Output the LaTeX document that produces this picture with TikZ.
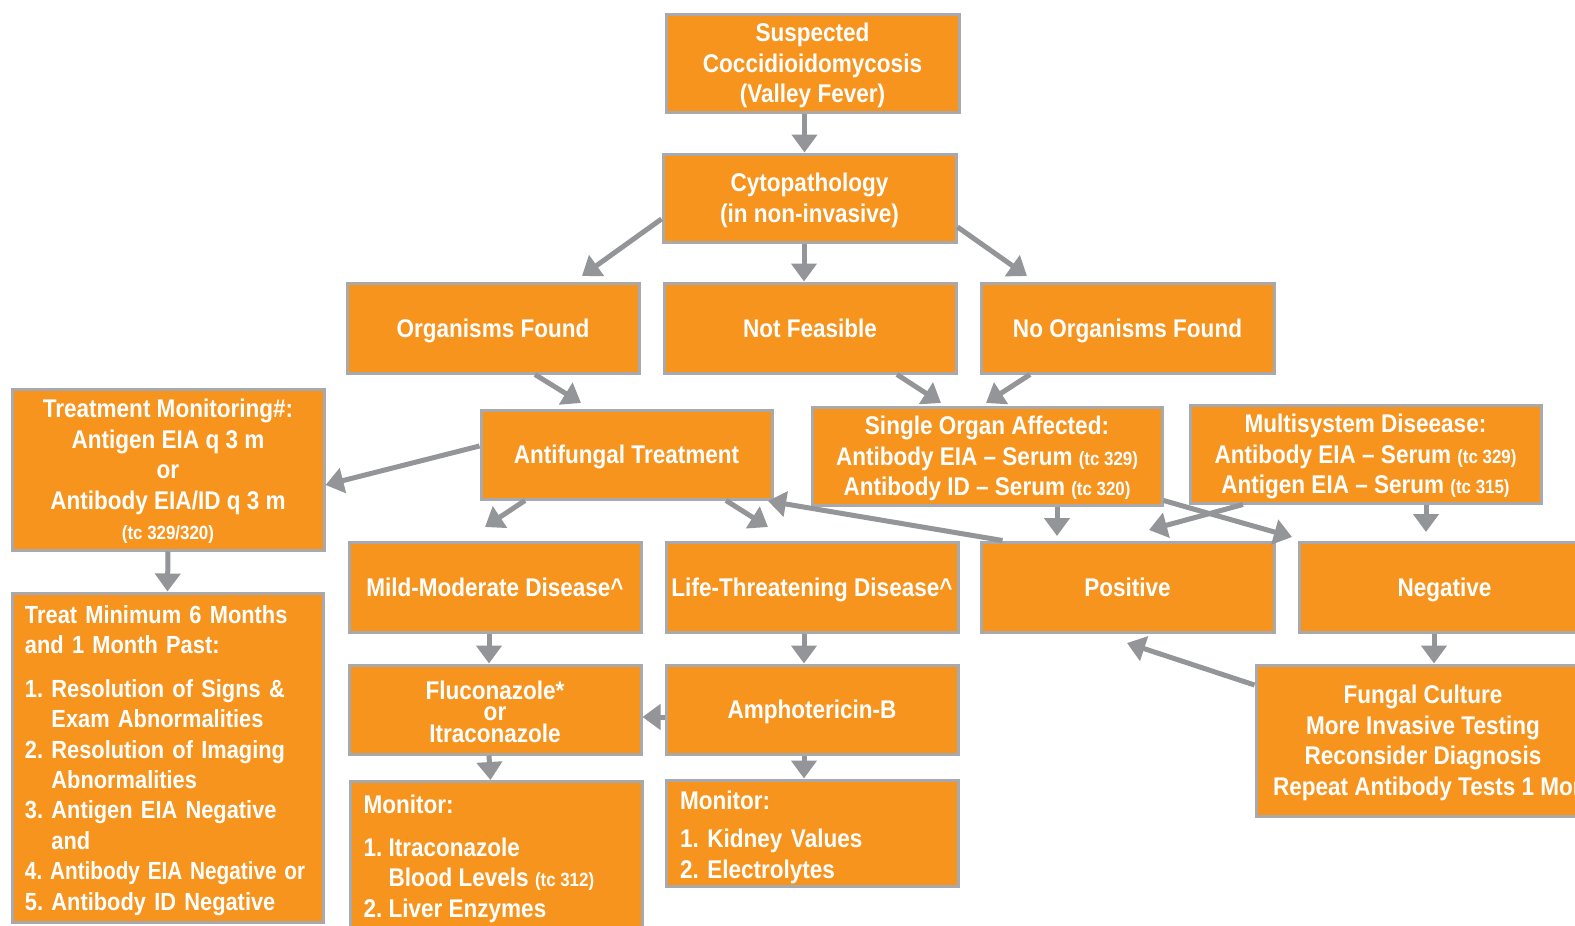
\documentclass[tikz,border=0pt]{standalone}
\usepackage{fontspec}
\usepackage{graphicx}
\setmainfont{Liberation Sans}[FakeStretch=0.88]
\usetikzlibrary{arrows.meta}
\frenchspacing
\definecolor{vforange}{RGB}{247,148,30}
\definecolor{bordergray}{RGB}{167,169,172}
\definecolor{arrowgray}{RGB}{147,149,152}
\newcommand\mainfs{\fontsize{12.8pt}{15.25pt}\selectfont\bfseries}
\newcommand\tcfs{\fontsize{9.6pt}{11pt}\selectfont}
\newcommand\topstrut{\rule{0pt}{12.4pt}}
\newcommand\botstrut{\rule[-3.2pt]{0pt}{3.2pt}}
\newcommand\bx[7][]{\node[box,#1, minimum width={(#5-#3)*0.5pt}, minimum height={(#6-#4)*0.5pt}] (#2) at ({(#3+#5)/2},{(#4+#6)/2}) {\topstrut#7\botstrut};}
\begin{document}
\begin{tikzpicture}[x=0.5pt,y=-0.5pt,
  box/.style={draw=bordergray, line width=1.5pt, fill=vforange, text=white, font=\mainfs, align=center, inner sep=0pt},
  arr/.style={draw=arrowgray, line width=2.5pt, -{Triangle[width=12.5pt,length=9pt]}}]
\useasboundingbox (0,0) rectangle (1575,926);
\fill[white] (0,0) rectangle (1575,926);
\clip (0,0) rectangle (1575,926);

% boxes
\bx{sus}{666}{14}{959}{112}{Suspected\\Coccidioidomycosis\\(Valley Fever)}
\bx{cyto}{663}{154}{956}{242}{Cytopathology\\(in non-invasive)}
\bx{org}{347}{283}{639}{373}{Organisms Found}
\bx{notf}{664}{283}{956}{373}{Not Feasible}
\bx{noorg}{981}{283}{1274}{373}{No Organisms Found}
\bx{tm}{12}{389}{324}{550}{Treatment Monitoring\#:\\Antigen EIA q 3 m\\or\\Antibody EIA/ID q 3 m\\{\tcfs (tc 329/320)}}
\bx{anti}{481}{410}{772}{499}{Antifungal Treatment}
\bx{single}{812}{407}{1162}{505}{Single Organ Affected:\\Antibody EIA -- Serum {\tcfs (tc 329)}\\Antibody ID -- Serum {\tcfs (tc 320)}}
\bx{multi}{1190}{405}{1541}{503}{Multisystem Diseease:\\Antibody EIA -- Serum {\tcfs (tc 329)}\\Antigen EIA -- Serum {\tcfs (tc 315)}}
\bx[align=left, text width={285*0.5pt}, font={\mainfs\fontsize{12.4pt}{15.2pt}\selectfont}]{tmin}{12}{593}{323}{922}{Treat Minimum 6 Months\\and 1 Month Past:\\[6.5pt]1. Resolution of Signs \&\\\phantom{1.~}Exam Abnormalities\\2. Resolution of Imaging\\\phantom{2.~}Abnormalities\\3. Antigen EIA Negative\\\phantom{3.~}and\\\scalebox{0.95}[1]{4. Antibody EIA Negative or}\\5. Antibody ID Negative}
\bx{mild}{349}{542}{641}{632}{Mild-Moderate Disease\textasciicircum}
\bx{life}{666}{542}{958}{632}{Life-Threatening Disease\textasciicircum}
\bx{pos}{981}{542}{1274}{632}{Positive}
\bx{neg}{1299}{542}{1590}{632}{Negative}
\bx[font={\mainfs\fontsize{12.8pt}{10.8pt}\selectfont}]{fluc}{349}{665}{641}{754}{\rule{0pt}{14.4pt}Fluconazole*\\or\\Itraconazole}
\bx{amph}{666}{665}{958}{754}{Amphotericin-B}
\bx[align=left, text width={264*0.5pt}]{monr}{666}{780}{958}{886}{\rule{0pt}{14.4pt}Monitor:\\[3.75pt]1. Kidney Values\\2. Electrolytes}
\bx{fung}{1256}{665}{1590}{816}{Fungal Culture\\More Invasive Testing\\Reconsider Diagnosis\\\makebox[150pt][l]{Repeat Antibody Tests 1 Month}}
\node[box, anchor=north west, minimum width={292*0.5pt}, minimum height={170*0.5pt}] (monl) at (349,780)
  {\parbox[c][85pt][t]{133pt}{\raggedright\vspace*{5.3pt}\strut Monitor:\\[6.25pt]1. Itraconazole\\\phantom{1.~}Blood Levels {\tcfs (tc 312)}\\2. Liver Enzymes}};

% free ends
\coordinate (eOrg) at (582,276);
\coordinate (eNoOrg) at (1027,276);
\coordinate (eAnti) at (581,403);
\coordinate (eSingleA) at (941,403);
\coordinate (eSingleB) at (986,403);
\coordinate (eMild) at (485,527);
\coordinate (eLife) at (768,527);
\coordinate (eAntiBack) at (768,501);
\coordinate (ePosA) at (1057,536);
\coordinate (eNeg) at (1292,537);
\coordinate (ePosB) at (1149,530);
\coordinate (eNegB) at (1426,532);
\coordinate (ePosC) at (1127,643);

% connectors
\draw[arr] ([shift={(-8,0)}]sus.south) -- ([shift={(-5,0)}]cyto.north);
\draw[arr] ([shift={(0,21)}]cyto.west) -- (eOrg);
\draw[arr] ([shift={(-5.5,0)}]cyto.south) -- ([shift={(-6,0)}]notf.north);
\draw[arr] ([shift={(0,29)}]cyto.east) -- (eNoOrg);
\draw[arr] ([shift={(42,0)}]org.south) -- (eAnti);
\draw[arr] ([shift={(87,0)}]notf.south) -- (eSingleA);
\draw[arr] ([shift={(-97.5,0)}]noorg.south) -- (eSingleB);
\draw[arr] ([shift={(0,-8.5)}]anti.west) -- ([shift={(0,15.5)}]tm.east);
\draw[arr] (tm.south) -- (tmin.north);
\draw[arr] ([shift={(-101.5,0)}]anti.south) -- (eMild);
\draw[arr] ([shift={(99.5,0)}]anti.south) -- (eLife);
\draw[arr] ([shift={(23,0)}]pos.north west) -- (eAntiBack);
\draw[arr] ([shift={(70,0)}]single.south) -- (ePosA);
\draw[arr] ([shift={(0,-6)}]single.south east) -- (eNeg);
\draw[arr] ([shift={(-122.5,0)}]multi.south) -- (ePosB);
\draw[arr] ([shift={(60.5,0)}]multi.south) -- (eNegB);
\draw[arr] ([shift={(-10.5,0)}]neg.south) -- ([shift={(11,0)}]fung.north);
\draw[arr] ([shift={(0,-55.5)}]fung.west) -- (ePosC);
\draw[arr] ([shift={(-6,0)}]mild.south) -- ([shift={(-6,0)}]fluc.north);
\draw[arr] ([shift={(-8,0)}]life.south) -- ([shift={(-8,0)}]amph.north);
\draw[arr] ([shift={(0,7.5)}]amph.west) -- ([shift={(0,7.5)}]fluc.east);
\draw[arr] ([shift={(-6,0)}]fluc.south) -- ([shift={(-6,0)}]monl.north);
\draw[arr] ([shift={(-8,0)}]amph.south) -- ([shift={(-8,0)}]monr.north);
\end{tikzpicture}
\end{document}
